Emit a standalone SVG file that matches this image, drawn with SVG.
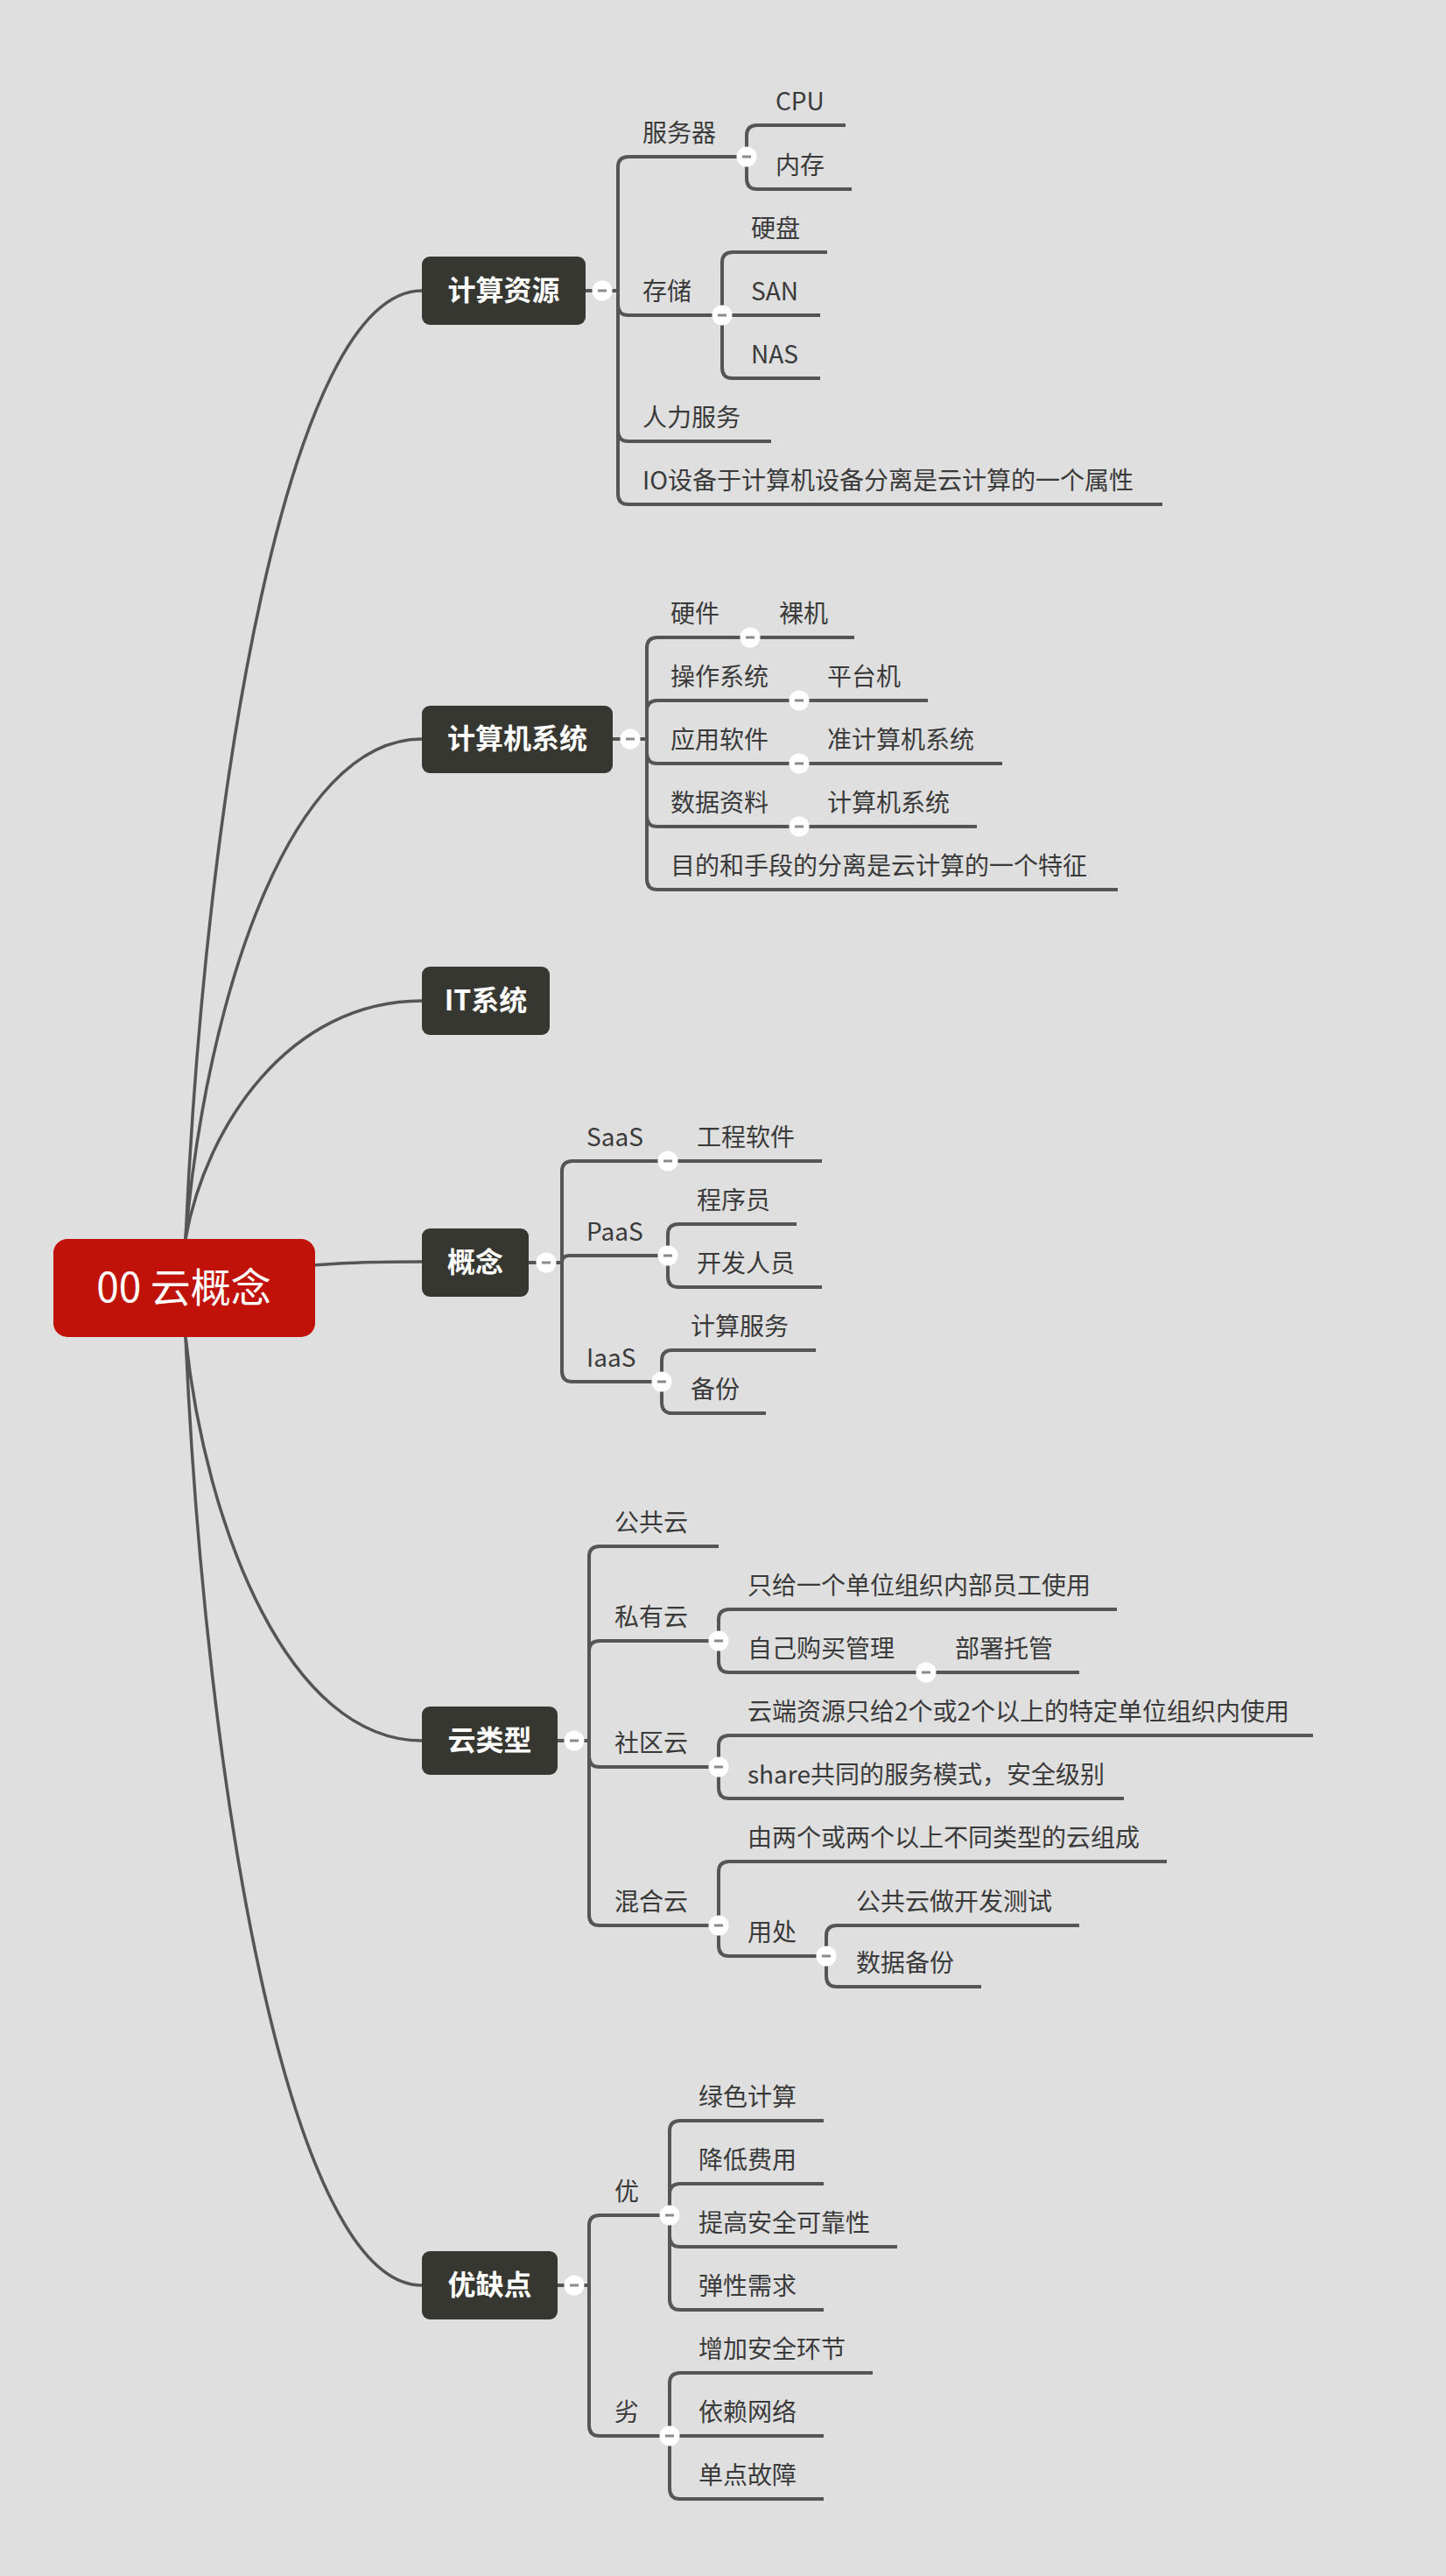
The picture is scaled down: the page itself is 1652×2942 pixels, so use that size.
<svg xmlns="http://www.w3.org/2000/svg" xmlns:xlink="http://www.w3.org/1999/xlink" width="1652" height="2942" viewBox="0 0 1652 2942">
<style>
.bg{fill:#dfdfdf}
.c{fill:none;stroke:#555555;stroke-width:4;stroke-linecap:butt}
.m{fill:none;stroke:#555555;stroke-width:3.5}
.node{fill:#373731}
.root{fill:#c1120a}
.t{font-family:"Noto Sans CJK SC","Noto Sans",sans-serif;font-size:28px;fill:#3a3a3a}
.n{font-family:"Noto Sans CJK SC","Noto Sans",sans-serif;font-size:32px;font-weight:bold;fill:#ffffff;text-anchor:middle}
.r{font-family:"Noto Sans CJK SC","Noto Sans",sans-serif;font-size:46px;fill:#ffffff;text-anchor:middle}
</style>
<defs>
<g id="tog"><circle cx="0" cy="0" r="11.5" fill="#ffffff"/><line x1="-5" y1="0" x2="5" y2="0" stroke="#8a8a8a" stroke-width="3"/></g>
</defs>
<rect class="bg" x="0" y="0" width="1652" height="2942"/>
<g id="connectors">
<path class="m" d="M212,1415 C235,901 330,332 482,332"/>
<path class="m" d="M212,1415 C235,1144 330,844 482,844"/>
<path class="m" d="M212,1415 C235,1286 330,1143 482,1143"/>
<path class="m" d="M300,1450 C380,1442 420,1441 482,1441"/>
<path class="m" d="M212,1527 C235,1746 330,1988 482,1988"/>
<path class="m" d="M212,1527 C235,2041 330,2610 482,2610"/>
<path class="c" d="M669,332 H706"/>
<path class="c" d="M706,332 V191 Q706,179 718,179 H853"/>
<path class="c" d="M706,332 V348 Q706,360 718,360 H825"/>
<path class="c" d="M706,332 V492 Q706,504 718,504 H881"/>
<path class="c" d="M706,332 V564 Q706,576 718,576 H1328"/>
<path class="c" d="M853,179 V155 Q853,143 865,143 H966"/>
<path class="c" d="M853,179 V204 Q853,216 865,216 H973"/>
<path class="c" d="M825,360 V300 Q825,288 837,288 H945"/>
<path class="c" d="M825,360 H937"/>
<path class="c" d="M825,360 V420 Q825,432 837,432 H937"/>
<path class="c" d="M700,844 H739"/>
<path class="c" d="M739,844 V740 Q739,728 751,728 H857"/>
<path class="c" d="M739,844 V812 Q739,800 751,800 H913"/>
<path class="c" d="M739,844 V860 Q739,872 751,872 H913"/>
<path class="c" d="M739,844 V932 Q739,944 751,944 H913"/>
<path class="c" d="M739,844 V1004 Q739,1016 751,1016 H1277"/>
<path class="c" d="M857,728 H976"/>
<path class="c" d="M913,800 H1060"/>
<path class="c" d="M913,872 H1145"/>
<path class="c" d="M913,944 H1116"/>
<path class="c" d="M604,1442 H642"/>
<path class="c" d="M642,1442 V1338 Q642,1326 654,1326 H763"/>
<path class="c" d="M642,1442 Q642,1434 650,1434 H763"/>
<path class="c" d="M642,1442 V1566 Q642,1578 654,1578 H756"/>
<path class="c" d="M763,1326 H939"/>
<path class="c" d="M763,1434 V1410 Q763,1398 775,1398 H910"/>
<path class="c" d="M763,1434 V1458 Q763,1470 775,1470 H939"/>
<path class="c" d="M756,1578 V1554 Q756,1542 768,1542 H932"/>
<path class="c" d="M756,1578 V1602 Q756,1614 768,1614 H875"/>
<path class="c" d="M637,1988 H673"/>
<path class="c" d="M673,1988 V1778 Q673,1766 685,1766 H821"/>
<path class="c" d="M673,1988 V1886 Q673,1874 685,1874 H821"/>
<path class="c" d="M673,1988 V2006 Q673,2018 685,2018 H821"/>
<path class="c" d="M673,1988 V2187 Q673,2199 685,2199 H821"/>
<path class="c" d="M821,1874 V1850 Q821,1838 833,1838 H1276"/>
<path class="c" d="M821,1874 V1898 Q821,1910 833,1910 H1058"/>
<path class="c" d="M1058,1910 H1233"/>
<path class="c" d="M821,2018 V1994 Q821,1982 833,1982 H1500"/>
<path class="c" d="M821,2018 V2042 Q821,2054 833,2054 H1284"/>
<path class="c" d="M821,2199 V2138 Q821,2126 833,2126 H1333"/>
<path class="c" d="M821,2199 V2222 Q821,2234 833,2234 H944"/>
<path class="c" d="M944,2234 V2211 Q944,2199 956,2199 H1233"/>
<path class="c" d="M944,2234 V2257 Q944,2269 956,2269 H1121"/>
<path class="c" d="M637,2610 H673"/>
<path class="c" d="M673,2610 V2542 Q673,2530 685,2530 H765"/>
<path class="c" d="M673,2610 V2770 Q673,2782 685,2782 H765"/>
<path class="c" d="M765,2530 V2434 Q765,2422 777,2422 H941"/>
<path class="c" d="M765,2530 V2506 Q765,2494 777,2494 H941"/>
<path class="c" d="M765,2530 V2554 Q765,2566 777,2566 H1025"/>
<path class="c" d="M765,2530 V2626 Q765,2638 777,2638 H941"/>
<path class="c" d="M765,2782 V2722 Q765,2710 777,2710 H997"/>
<path class="c" d="M765,2782 H941"/>
<path class="c" d="M765,2782 V2842 Q765,2854 777,2854 H941"/>
</g>
<g id="toggles">
<use xlink:href="#tog" x="688" y="332"/>
<use xlink:href="#tog" x="853" y="179"/>
<use xlink:href="#tog" x="825" y="360"/>
<use xlink:href="#tog" x="720" y="844"/>
<use xlink:href="#tog" x="857" y="728"/>
<use xlink:href="#tog" x="913" y="800"/>
<use xlink:href="#tog" x="913" y="872"/>
<use xlink:href="#tog" x="913" y="944"/>
<use xlink:href="#tog" x="624" y="1442"/>
<use xlink:href="#tog" x="763" y="1326"/>
<use xlink:href="#tog" x="763" y="1434"/>
<use xlink:href="#tog" x="756" y="1578"/>
<use xlink:href="#tog" x="656" y="1988"/>
<use xlink:href="#tog" x="821" y="1874"/>
<use xlink:href="#tog" x="1058" y="1910"/>
<use xlink:href="#tog" x="821" y="2018"/>
<use xlink:href="#tog" x="821" y="2199"/>
<use xlink:href="#tog" x="944" y="2234"/>
<use xlink:href="#tog" x="656" y="2610"/>
<use xlink:href="#tog" x="765" y="2530"/>
<use xlink:href="#tog" x="765" y="2782"/>
</g>
<g id="root"><rect class="root" x="61" y="1415" width="299" height="112" rx="16"/><text class="r" x="210" y="1487">00 云概念</text></g>
<g id="n-jisuanziyuan"><rect class="node" x="482" y="293" width="187" height="78" rx="9"/><text class="n" x="575.5" y="343">计算资源</text></g>
<g id="n-fuwuqi"><text class="t" x="734" y="162">服务器</text></g>
<g id="n-cpu"><text class="t" x="886" y="126">CPU</text></g>
<g id="n-neicun"><text class="t" x="886" y="199">内存</text></g>
<g id="n-cunchu"><text class="t" x="734" y="343">存储</text></g>
<g id="n-yingpan"><text class="t" x="858" y="271">硬盘</text></g>
<g id="n-san"><text class="t" x="858" y="343">SAN</text></g>
<g id="n-nas"><text class="t" x="858" y="415">NAS</text></g>
<g id="n-renli"><text class="t" x="734" y="487">人力服务</text></g>
<g id="n-io"><text class="t" x="734" y="559">IO设备于计算机设备分离是云计算的一个属性</text></g>
<g id="n-jisuanjixitong"><rect class="node" x="482" y="806" width="218" height="77" rx="9"/><text class="n" x="591" y="855">计算机系统</text></g>
<g id="n-yingjian"><text class="t" x="766" y="711">硬件</text></g>
<g id="n-luoji"><text class="t" x="890" y="711">裸机</text></g>
<g id="n-caozuo"><text class="t" x="766" y="783">操作系统</text></g>
<g id="n-pingtai"><text class="t" x="945" y="783">平台机</text></g>
<g id="n-yingyong"><text class="t" x="766" y="855">应用软件</text></g>
<g id="n-zhun"><text class="t" x="945" y="855">准计算机系统</text></g>
<g id="n-shuju"><text class="t" x="766" y="927">数据资料</text></g>
<g id="n-jsjxt2"><text class="t" x="945" y="927">计算机系统</text></g>
<g id="n-mudi"><text class="t" x="766" y="999">目的和手段的分离是云计算的一个特征</text></g>
<g id="n-it"><rect class="node" x="482" y="1104" width="146" height="78" rx="9"/><text class="n" x="555" y="1154">IT系统</text></g>
<g id="n-gainian"><rect class="node" x="482" y="1403" width="122" height="78" rx="9"/><text class="n" x="543" y="1453">概念</text></g>
<g id="n-saas"><text class="t" x="670" y="1309">SaaS</text></g>
<g id="n-gongcheng"><text class="t" x="796" y="1309">工程软件</text></g>
<g id="n-paas"><text class="t" x="670" y="1417">PaaS</text></g>
<g id="n-chengxu"><text class="t" x="796" y="1381">程序员</text></g>
<g id="n-kaifa"><text class="t" x="796" y="1453">开发人员</text></g>
<g id="n-iaas"><text class="t" x="670" y="1561">IaaS</text></g>
<g id="n-jsfw"><text class="t" x="789" y="1525">计算服务</text></g>
<g id="n-beifen"><text class="t" x="789" y="1597">备份</text></g>
<g id="n-yunleixing"><rect class="node" x="482" y="1949" width="155" height="78" rx="9"/><text class="n" x="559.5" y="1999">云类型</text></g>
<g id="n-gonggong"><text class="t" x="702" y="1749">公共云</text></g>
<g id="n-siyou"><text class="t" x="702" y="1857">私有云</text></g>
<g id="n-zhigei"><text class="t" x="854" y="1821">只给一个单位组织内部员工使用</text></g>
<g id="n-ziji"><text class="t" x="854" y="1893">自己购买管理</text></g>
<g id="n-bushu"><text class="t" x="1091" y="1893">部署托管</text></g>
<g id="n-shequ"><text class="t" x="702" y="2001">社区云</text></g>
<g id="n-yunduan"><text class="t" x="854" y="1965">云端资源只给2个或2个以上的特定单位组织内使用</text></g>
<g id="n-share"><text class="t" x="854" y="2037">share共同的服务模式，安全级别</text></g>
<g id="n-hunhe"><text class="t" x="702" y="2182">混合云</text></g>
<g id="n-youliang"><text class="t" x="854" y="2109">由两个或两个以上不同类型的云组成</text></g>
<g id="n-yongchu"><text class="t" x="854" y="2217">用处</text></g>
<g id="n-kaifaceshi"><text class="t" x="978" y="2182">公共云做开发测试</text></g>
<g id="n-shujubeifen"><text class="t" x="978" y="2252">数据备份</text></g>
<g id="n-youquedian"><rect class="node" x="482" y="2571" width="155" height="78" rx="9"/><text class="n" x="559.5" y="2621">优缺点</text></g>
<g id="n-you"><text class="t" x="702" y="2513">优</text></g>
<g id="n-lvse"><text class="t" x="798" y="2405">绿色计算</text></g>
<g id="n-jiangdi"><text class="t" x="798" y="2477">降低费用</text></g>
<g id="n-tigao"><text class="t" x="798" y="2549">提高安全可靠性</text></g>
<g id="n-tanxing"><text class="t" x="798" y="2621">弹性需求</text></g>
<g id="n-lie"><text class="t" x="702" y="2765">劣</text></g>
<g id="n-zengjia"><text class="t" x="798" y="2693">增加安全环节</text></g>
<g id="n-yilai"><text class="t" x="798" y="2765">依赖网络</text></g>
<g id="n-dandian"><text class="t" x="798" y="2837">单点故障</text></g>
</svg>
